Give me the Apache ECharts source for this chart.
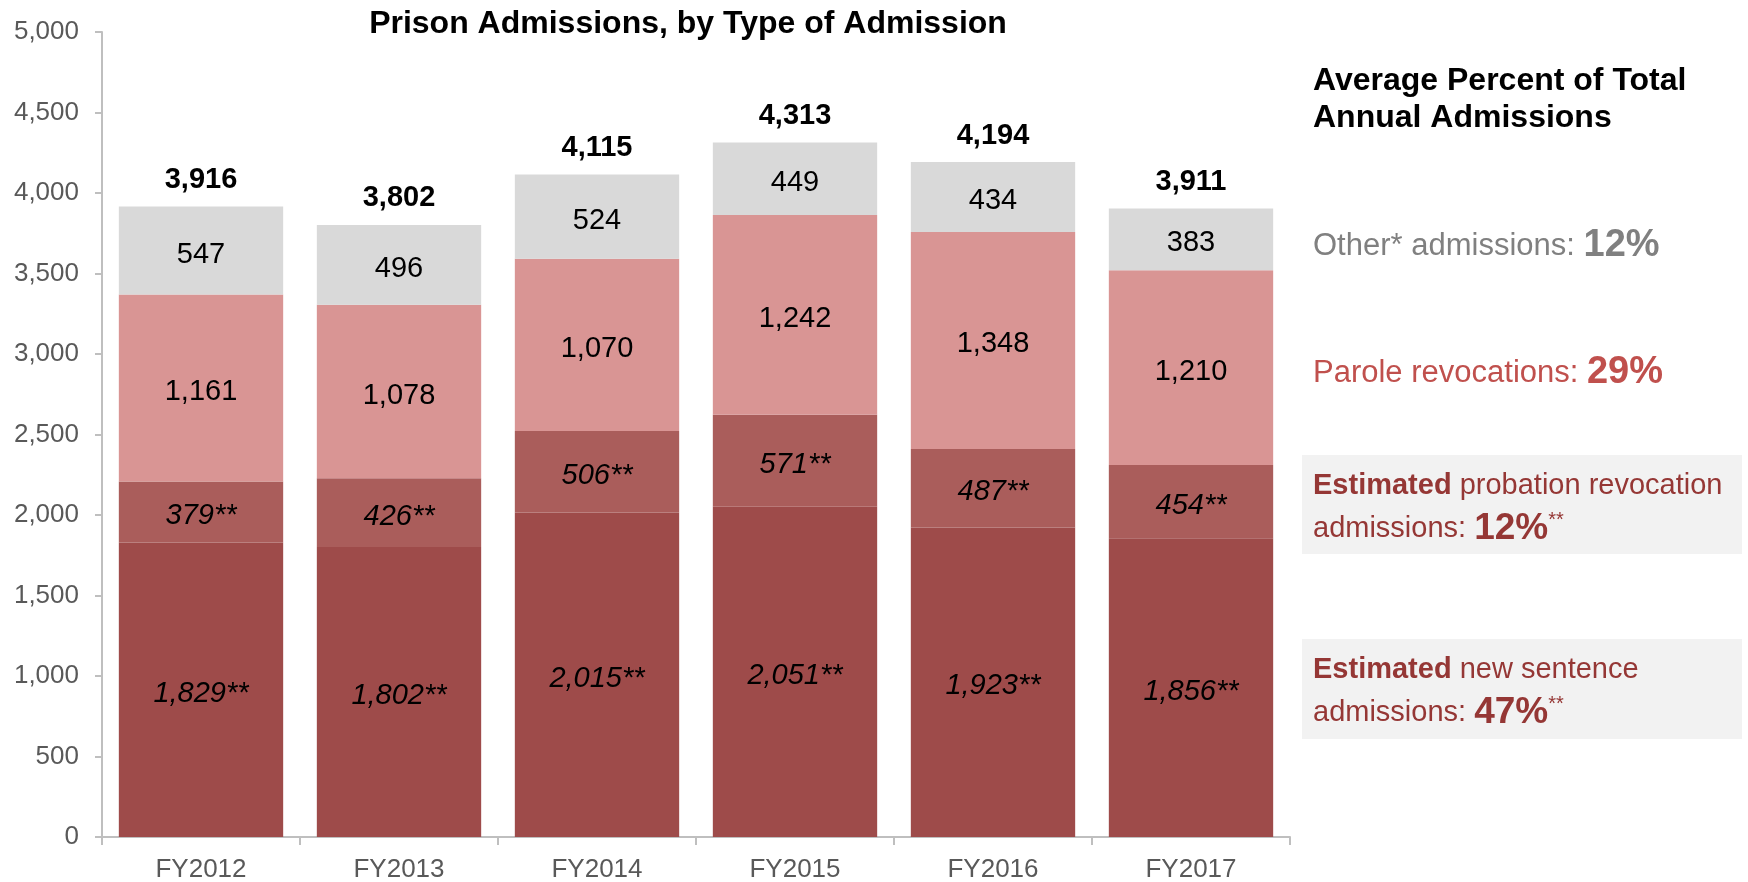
<!DOCTYPE html>
<html><head><meta charset="utf-8">
<script src="https://cdn.jsdelivr.net/npm/echarts@6/dist/echarts.min.js"></script>
<style>html,body{margin:0;padding:0;background:#fff}#c{width:1748px;height:882px}</style>
</head><body><div id="c"></div>
<script>
const categories = ['FY2012','FY2013','FY2014','FY2015','FY2016','FY2017'];
const newSentence = [1829,1802,2015,2051,1923,1856];
const probation = [379,426,506,571,487,454];
const parole = [1161,1078,1070,1242,1348,1210];
const other = [547,496,524,449,434,383];
const totals = [3916,3802,4115,4313,4194,3911];

const FONT = "'Liberation Sans', Arial, sans-serif";
const RED = '#953735';
const fmt = v => v.toLocaleString('en-US');
const chart = echarts.init(document.getElementById('c'));
const segLabel = (italic, star) => ({
  show: true, position: 'inside', offset: [0, 4], color: '#000', fontSize: 29, fontFamily: FONT,
  fontStyle: italic ? 'italic' : 'normal',
  formatter: p => fmt(p.value) + (star ? '**' : '')
});
const rs = (size, color, bold) => ({ fontSize: size, fontFamily: FONT, fill: color, fontWeight: bold ? 'bold' : 'normal' });
chart.setOption({
  animation: false,
  title: { text: 'Prison Admissions, by Type of Admission', left: 683, top: 3, textAlign: 'center',
    textStyle: { fontSize: 32, fontWeight: 'bold', color: '#000', fontFamily: FONT } },
  grid: { left: 102, right: 458, top: 32, bottom: 45, containLabel: false, outerBoundsMode: 'none' },
  xAxis: { type: 'category', data: categories,
    axisLine: { lineStyle: { color: '#bfbfbf', width: 2 } },
    axisTick: { show: true, length: 8, lineStyle: { color: '#bfbfbf', width: 2 } },
    axisLabel: { color: '#595959', fontSize: 26, fontFamily: FONT, margin: 20 } },
  yAxis: { type: 'value', min: 0, max: 5000, interval: 500,
    axisLine: { show: true, lineStyle: { color: '#bfbfbf', width: 2 } },
    axisTick: { show: true, length: 7, lineStyle: { color: '#bfbfbf', width: 2 } },
    splitLine: { show: false },
    axisLabel: { color: '#595959', fontSize: 26, fontFamily: FONT, margin: 23, formatter: v => fmt(v) } },
  series: [
    { name: 'New sentence', type: 'bar', stack: 't', data: newSentence, barCategoryGap: '17%',
      itemStyle: { color: '#9e4b4a' }, label: segLabel(true, true) },
    { name: 'Probation', type: 'bar', stack: 't', data: probation,
      itemStyle: { color: '#aa5d5b' }, label: segLabel(true, true) },
    { name: 'Parole', type: 'bar', stack: 't', data: parole,
      itemStyle: { color: '#d99594' }, label: segLabel(false, false) },
    { name: 'Other', type: 'bar', stack: 't', data: other,
      itemStyle: { color: '#d9d9d9' }, label: segLabel(false, false) },
    { name: 'Total', type: 'bar', stack: 't', data: totals.map(() => 0),
      itemStyle: { color: 'transparent' },
      label: { show: true, position: 'top', distance: 12, color: '#000', fontSize: 29, fontWeight: 'bold', fontFamily: FONT,
        formatter: p => fmt(totals[p.dataIndex]) } }
  ],
  graphic: [
    { type: 'text', left: 1313, top: 63, style: { text: 'Average Percent of Total\nAnnual Admissions',
      font: "bold 32px " + FONT, fill: '#000', lineHeight: 37 } },
    { type: 'text', left: 1313, top: 227, style: { text: '{a|Other* admissions: }{b|12%}',
      rich: { a: rs(31, '#808080'), b: rs(38, '#808080', true) } } },
    { type: 'text', left: 1313, top: 354, style: { text: '{a|Parole revocations: }{b|29%}',
      rich: { a: rs(31, '#c0504d'), b: rs(38, '#c0504d', true) } } },
    { type: 'rect', shape: { x: 1302, y: 455, width: 440, height: 99 }, style: { fill: '#f2f2f2' }, z: 0 },
    { type: 'text', left: 1313, top: 471, z: 2, style: { text: '{b|Estimated}{a| probation revocation}',
      rich: { a: rs(29, RED), b: rs(29, RED, true) } } },
    { type: 'text', left: 1313, top: 510, z: 2, style: { text: '{a|admissions: }{c|12%}{s|**}',
      rich: { a: rs(29, RED), c: rs(37, RED, true),
              s: Object.assign(rs(20, RED), { verticalAlign: 'top', padding: [0,0,12,0] }) } } },
    { type: 'rect', shape: { x: 1302, y: 639, width: 440, height: 100 }, style: { fill: '#f2f2f2' }, z: 0 },
    { type: 'text', left: 1313, top: 655, z: 2, style: { text: '{b|Estimated}{a| new sentence}',
      rich: { a: rs(29, RED), b: rs(29, RED, true) } } },
    { type: 'text', left: 1313, top: 694, z: 2, style: { text: '{a|admissions: }{c|47%}{s|**}',
      rich: { a: rs(29, RED), c: rs(37, RED, true),
              s: Object.assign(rs(20, RED), { verticalAlign: 'top', padding: [0,0,12,0] }) } } }
  ]
});
</script></body></html>
